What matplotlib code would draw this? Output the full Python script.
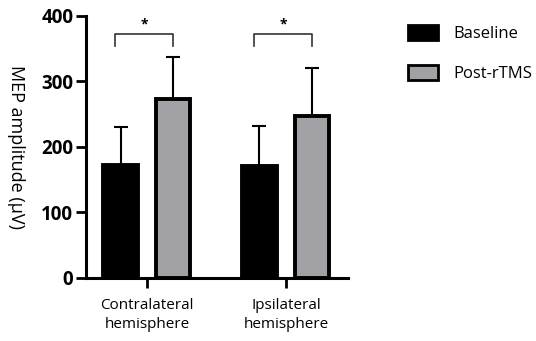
import numpy as np
import matplotlib.pyplot as plt
from matplotlib.patches import Patch

# values
groups = ["Contralateral\nhemisphere", "Ipsilateral\nhemisphere"]
baseline = [172, 171]
baseline_err = [58, 61]
post = [272, 247]
post_err = [65, 73]
sig_y = 372
sig_drop = 18

plt.rcParams["font.family"] = ["Open Sans", "DejaVu Sans"]

fig = plt.figure(figsize=(5.36, 3.41), dpi=100)
ax = fig.add_axes([0.160, 0.186, 0.489, 0.768])

x = np.arange(len(groups))
off, w = 0.19, 0.245
black, grey = "#000000", "#a2a2a6"

for xi, v, e in zip(x - off, baseline, baseline_err):
    ax.errorbar(xi, v, yerr=[[0], [e]], color="black", lw=1.5, capsize=5, capthick=1.5, zorder=1)
for xi, v, e in zip(x + off, post, post_err):
    ax.errorbar(xi, v, yerr=[[0], [e]], color="black", lw=1.5, capsize=5, capthick=1.5, zorder=1)

ax.bar(x - off, baseline, width=w, color=black, edgecolor="black", lw=2.8, zorder=2)
ax.bar(x + off, post, width=w, color=grey, edgecolor="black", lw=2.8, zorder=2)

# significance brackets
for xi in x:
    x0, x1 = xi - off - 0.04, xi + off
    ax.plot([x0, x0, x1, x1], [sig_y - sig_drop, sig_y, sig_y, sig_y - sig_drop],
            color="#333333", lw=1.2, clip_on=False)
    ax.text((x0 + x1) / 2, sig_y + 4, "*", ha="center", va="bottom", fontsize=10, fontweight="bold")

ax.set_xlim(-0.44, 1.446)
ax.set_ylim(0, 400)
ax.set_yticks([0, 100, 200, 300, 400])
ax.set_xticks(x)
ax.set_xticklabels(groups, fontsize=11, linespacing=1.3)
for lab in ax.get_yticklabels():
    lab.set_fontweight("bold")
    lab.set_fontsize(13.5)
ax.tick_params(axis="y", width=2, length=7, pad=2)
ax.tick_params(axis="x", width=2, length=7, pad=8)
ax.spines["top"].set_visible(False)
ax.spines["right"].set_visible(False)
ax.spines["left"].set_linewidth(2.2)
ax.spines["bottom"].set_linewidth(2.2)
ax.set_ylabel("MEP amplitude (µV)", rotation=270, fontsize=13, va="center")
ax.yaxis.set_label_coords(-0.267, 0.5)

handles = [Patch(facecolor=black, edgecolor="black", lw=2),
           Patch(facecolor=grey, edgecolor="black", lw=2)]
fig.legend(handles, ["Baseline", "Post-rTMS"], loc="upper left", bbox_to_anchor=(0.733, 0.97),
           frameon=False, fontsize=12, handlelength=1.8, handleheight=1.0, labelspacing=1.35,
           handletextpad=0.9)

fig.savefig("out.png", dpi=100)
